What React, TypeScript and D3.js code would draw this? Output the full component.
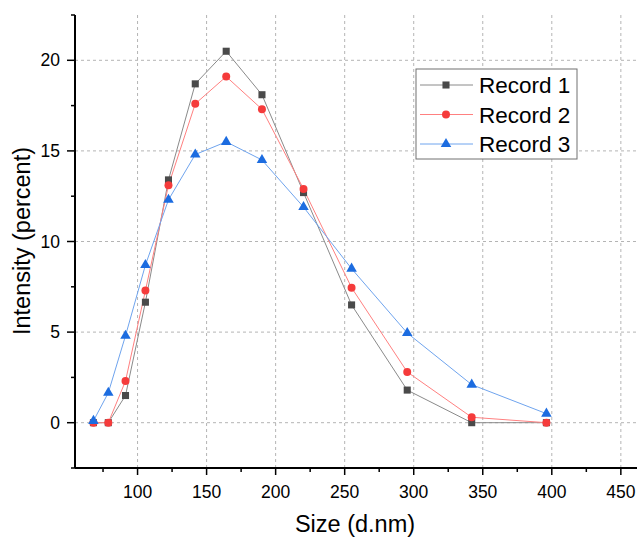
import React from 'react';
import * as d3 from 'd3';

const sizes = [68.06, 78.82, 91.28, 105.7, 122.4, 141.8, 164.2, 190.1, 220.2, 255.0, 295.3, 342.0, 396.1];
const record1 = [0, 0, 1.5, 6.65, 13.4, 18.7, 20.5, 18.1, 12.7, 6.5, 1.8, 0, 0];
const record2 = [0, 0, 2.3, 7.3, 13.1, 17.6, 19.1, 17.3, 12.9, 7.45, 2.8, 0.3, 0];
const record3 = [0.1, 1.65, 4.8, 8.7, 12.3, 14.8, 15.5, 14.5, 11.9, 8.5, 4.95, 2.1, 0.5];
const seriesNames = ['Record 1', 'Record 2', 'Record 3'];
const xTicks = [100, 150, 200, 250, 300, 350, 400, 450];
const yTicks = [0, 5, 10, 15, 20];

const W = 638;
const H = 538;
const margin = { top: 15, right: 1, bottom: 70, left: 75 };
const FONT = 'Liberation Sans, Arial, sans-serif';

const styles = [
  { line: '#8a8a8a', marker: '#4a4a4a', shape: 'square' },
  { line: '#ff8080', marker: '#f53b3b', shape: 'circle' },
  { line: '#6fa4ee', marker: '#1c6ce0', shape: 'triangle' },
];

const App = () => {
  const svgRef = React.useRef<SVGSVGElement>(null);

  React.useEffect(() => {
    const svg = d3.select(svgRef.current);
    svg.selectAll('*').remove();

    const innerW = W - margin.left - margin.right;
    const innerH = H - margin.top - margin.bottom;

    const x = d3.scaleLinear().domain([54.7, 461.7]).range([0, innerW]);
    const y = d3.scaleLinear().domain([-2.5, 22.5]).range([innerH, 0]);

    const g = svg.append('g').attr('transform', `translate(${margin.left},${margin.top})`);

    // grid
    g.append('g')
      .selectAll('line')
      .data(xTicks)
      .join('line')
      .attr('x1', d => x(d)).attr('x2', d => x(d))
      .attr('y1', 0).attr('y2', innerH)
      .attr('stroke', '#b4b4b4').attr('stroke-width', 1).attr('stroke-dasharray', '3,3');
    g.append('g')
      .selectAll('line')
      .data(yTicks)
      .join('line')
      .attr('x1', 0).attr('x2', innerW)
      .attr('y1', d => y(d)).attr('y2', d => y(d))
      .attr('stroke', '#b4b4b4').attr('stroke-width', 1).attr('stroke-dasharray', '3,3');

    // axes
    const xMinor = d3.range(75, 461, 50);
    const yMinor = d3.range(-2.5, 22.6, 5);

    const xAxis = g.append('g').attr('transform', `translate(0,${innerH})`);
    xAxis.append('line').attr('x1', 0).attr('x2', innerW).attr('stroke', '#000').attr('stroke-width', 2);
    xAxis.selectAll('.maj').data(xTicks).join('line')
      .attr('x1', d => x(d)).attr('x2', d => x(d)).attr('y1', 0).attr('y2', 7)
      .attr('stroke', '#000').attr('stroke-width', 1.5);
    xAxis.selectAll('.min').data(xMinor).join('line')
      .attr('x1', d => x(d)).attr('x2', d => x(d)).attr('y1', 0).attr('y2', 4)
      .attr('stroke', '#000').attr('stroke-width', 1.5);
    xAxis.selectAll('text').data(xTicks).join('text')
      .attr('x', d => x(d)).attr('y', 30)
      .attr('text-anchor', 'middle')
      .attr('font-family', FONT).attr('font-size', 17.5)
      .text(d => d);

    const yAxis = g.append('g');
    yAxis.append('line').attr('y1', 0).attr('y2', innerH).attr('stroke', '#000').attr('stroke-width', 2);
    yAxis.selectAll('.maj').data(yTicks).join('line')
      .attr('y1', d => y(d)).attr('y2', d => y(d)).attr('x1', 0).attr('x2', -8)
      .attr('stroke', '#000').attr('stroke-width', 1.5);
    yAxis.selectAll('.min').data(yMinor).join('line')
      .attr('y1', d => y(d)).attr('y2', d => y(d)).attr('x1', 0).attr('x2', -4)
      .attr('stroke', '#000').attr('stroke-width', 1.5);
    yAxis.selectAll('text').data(yTicks).join('text')
      .attr('x', -15).attr('y', d => y(d))
      .attr('dy', '0.35em')
      .attr('text-anchor', 'end')
      .attr('font-family', FONT).attr('font-size', 17.5)
      .text(d => d);

    // axis titles
    svg.append('text')
      .attr('x', 355)
      .attr('y', 532)
      .attr('text-anchor', 'middle')
      .attr('font-family', FONT).attr('font-size', 23.5)
      .text('Size (d.nm)');
    svg.append('text')
      .attr('transform', `translate(30,241) rotate(-90)`)
      .attr('text-anchor', 'middle')
      .attr('font-family', FONT).attr('font-size', 23.5)
      .text('Intensity (percent)');

    const symbolFor = (shape: string) =>
      shape === 'square'
        ? d3.symbol().type(d3.symbolSquare).size(50)
        : shape === 'circle'
        ? d3.symbol().type(d3.symbolCircle).size(50)
        : d3.symbol().type(d3.symbolTriangle).size(48);

    const all = [record1, record2, record3];
    const line = d3.line<number>().x((_, i) => x(sizes[i])).y(d => y(d));

    all.forEach((vals, si) => {
      const st = styles[si];
      g.append('path')
        .attr('d', line(vals))
        .attr('fill', 'none')
        .attr('stroke', st.line)
        .attr('stroke-width', 1);
    });
    all.forEach((vals, si) => {
      const st = styles[si];
      g.append('g')
        .selectAll('path')
        .data(vals)
        .join('path')
        .attr('transform', (d, i) => `translate(${x(sizes[i])},${y(d)})`)
        .attr('d', symbolFor(st.shape)())
        .attr('fill', st.marker);
    });

    // legend
    const lg = svg.append('g').attr('transform', 'translate(416,69)');
    lg.append('rect')
      .attr('width', 161).attr('height', 90)
      .attr('fill', '#fff').attr('stroke', '#707070').attr('stroke-width', 1);
    seriesNames.forEach((name, i) => {
      const st = styles[i];
      const cy = 16 + i * 29.5;
      lg.append('line')
        .attr('x1', 4).attr('x2', 57).attr('y1', cy).attr('y2', cy)
        .attr('stroke', st.line).attr('stroke-width', 1);
      lg.append('path')
        .attr('transform', `translate(30,${cy})`)
        .attr('d', symbolFor(st.shape)())
        .attr('fill', st.marker);
      lg.append('text')
        .attr('x', 63).attr('y', cy)
        .attr('dy', '0.36em')
        .attr('font-family', FONT).attr('font-size', 22.5)
        .text(name);
    });
  }, []);

  return (
    <svg
      ref={svgRef}
      width={W}
      height={H}
      style={{ position: 'absolute', left: 0, top: 0, background: '#fff' }}
    />
  );
};

export default App;
